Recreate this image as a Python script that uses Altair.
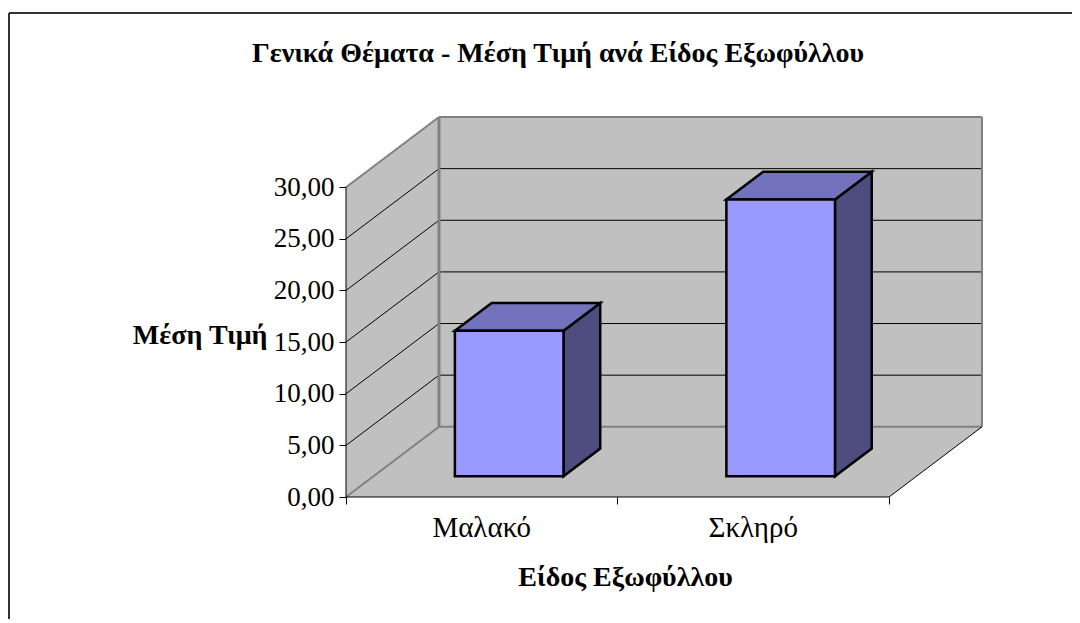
import altair as alt
import pandas as pd

categories = ["Μαλακό", "Σκληρό"]
values = [14.1, 26.8]
ticks = [0, 5, 10, 15, 20, 25, 30]

X_UNIT = 271.5
Y_UNIT = 10.3
DX = 93 / X_UNIT
DY = 70 / Y_UNIT
X_MAX = 2
Y_MAX = 30
BAR_W = 0.4
F0, F1 = 0.295, 0.69

GRAY = "#C0C0C0"
EDGE = "#808080"
FONT = "Liberation Serif"

x_scale = alt.Scale(domain=[0, X_MAX + DX], nice=False, zero=False)
y_scale = alt.Scale(domain=[0, Y_MAX + DY], nice=False, zero=False)
x_axis = alt.Axis(
    values=[0, 1, 2], labels=False, domain=False, grid=False, tickColor="#000000",
    tickSize=7, title="Είδος Εξωφύλλου", titleFont=FONT, titleFontSize=28,
    titleFontWeight="bold", titleColor="#000000", titleX=279, titleY=88,
    titleAlign="center", titleBaseline="alphabetic")
y_axis = alt.Axis(
    values=ticks, domain=False, grid=False, tickColor="#000000", tickSize=7,
    labelFont=FONT, labelFontSize=27, labelColor="#000000", labelPadding=5,
    labelExpr="replace(format(datum.value, '.2f'), '.', ',')",
    title="Μέση Τιμή", titleFont=FONT, titleFontSize=28, titleFontWeight="bold",
    titleColor="#000000", titleAngle=0, titleX=-79, titleY=226,
    titleAlign="right", titleBaseline="alphabetic")
X = alt.X("x:Q", scale=x_scale, axis=x_axis)
Y = alt.Y("y:Q", scale=y_scale, axis=y_axis)


def vert(rows, fill, **kw):
    """parallelogram with vertical sides"""
    return alt.Chart(pd.DataFrame(rows)).mark_area(fill=fill, **kw).encode(
        X, Y, y2="y2:Q")


def horiz(rows, fill, **kw):
    """parallelogram with horizontal sides"""
    return alt.Chart(pd.DataFrame(rows)).mark_area(
        fill=fill, orient="horizontal", **kw).encode(X, Y, x2="x2:Q")


def seg(rows, color, width):
    return alt.Chart(pd.DataFrame(rows)).mark_line(
        color=color, strokeWidth=width).encode(X, Y, detail="k:N", order="o:Q")


def seg_rows(pairs):
    out = []
    for k, (a, b) in enumerate(pairs):
        out.append({"k": k, "o": 0, "x": a[0], "y": a[1]})
        out.append({"k": k, "o": 1, "x": b[0], "y": b[1]})
    return out


# walls and floor
back = alt.Chart(pd.DataFrame([{"x": DX, "x2": X_MAX + DX, "y": DY, "y2": Y_MAX + DY}])).mark_rect(
    fill=GRAY).encode(X, Y, x2="x2:Q", y2="y2:Q")
left_wall = vert([{"x": 0, "y": 0, "y2": Y_MAX}, {"x": DX, "y": DY, "y2": Y_MAX + DY}], GRAY)
floor = horiz([{"y": 0, "x": 0, "x2": X_MAX}, {"y": DY, "x": DX, "x2": X_MAX + DX}], GRAY)

grid_vals = [t for t in ticks if 0 < t < Y_MAX]
grid = seg(seg_rows(
    [((0, t), (DX, t + DY)) for t in grid_vals]
    + [((DX, t + DY), (X_MAX + DX, t + DY)) for t in grid_vals]), "#000000", 1)

edges = seg(seg_rows([
    ((0, 0), (DX, DY)),
    ((0, Y_MAX), (DX, Y_MAX + DY)),
    ((DX, DY), (X_MAX + DX, DY)),
    ((X_MAX + DX, DY), (X_MAX + DX, Y_MAX + DY)),
    ((DX, Y_MAX + DY), (X_MAX + DX, Y_MAX + DY)),
]), EDGE, 2)
corner = seg(seg_rows([((DX, DY), (DX, Y_MAX + DY))]), EDGE, 3)

floor_edges = seg(seg_rows([((X_MAX, 0), (X_MAX + DX, DY))]), "#000000", 1)

y_line = alt.Chart(pd.DataFrame({"x": [0], "y": [0], "y2": [Y_MAX]})).mark_rule(
    color="#000000", strokeWidth=1).encode(X, Y, y2="y2:Q")
x_line = alt.Chart(pd.DataFrame({"x": [0], "x2": [X_MAX], "y": [0]})).mark_rule(
    color="#000000", strokeWidth=1).encode(X, Y, x2="x2:Q")

cat_labels = alt.Chart(pd.DataFrame({
    "x": [i + 0.5 for i in range(len(categories))], "y": [0.0] * len(categories), "t": categories,
})).mark_text(font=FONT, fontSize=29, color="#000000", dy=40, baseline="alphabetic").encode(
    X, Y, text="t:N")

# bars
bars = []
for i, v in enumerate(values):
    x0 = i + 0.5 - BAR_W / 2
    x1 = i + 0.5 + BAR_W / 2
    sx0, sx1 = x0 + F0 * DX, x1 + F0 * DX
    b0 = F0 * DY
    ox, oy = (F1 - F0) * DX, (F1 - F0) * DY
    kw = dict(stroke="#000000", strokeWidth=2.5, strokeJoin="miter")
    bars.append(vert([{"x": sx1, "y": b0, "y2": b0 + v}, {"x": sx1 + ox, "y": b0 + oy, "y2": b0 + oy + v}], "#4D4D80", **kw))
    bars.append(horiz([{"y": b0 + v, "x": sx0, "x2": sx1}, {"y": b0 + v + oy, "x": sx0 + ox, "x2": sx1 + ox}], "#7373BD", **kw))
    bars.append(alt.Chart(pd.DataFrame([{"x": sx0, "x2": sx1, "y": b0, "y2": b0 + v}])).mark_rect(
        fill="#9999FF", **kw).encode(X, Y, x2="x2:Q", y2="y2:Q"))

frame = alt.Chart(pd.DataFrame({"k": [0]})).mark_rule(color="#333333", strokeWidth=2).encode(
    x=alt.value(-337), x2=alt.value(726), y=alt.value(-104))
frame_l = alt.Chart(pd.DataFrame({"k": [0]})).mark_rule(color="#333333", strokeWidth=2).encode(
    x=alt.value(-337), y=alt.value(-104), y2=alt.value(502))

chart = alt.layer(
    back, left_wall, floor, grid, edges, corner, floor_edges, y_line, x_line,
    cat_labels, *bars, frame, frame_l,
).resolve_scale(x="shared", y="shared").properties(
    width=636, height=380,
    padding={"left": 338, "top": 109, "right": 90, "bottom": 122},
    autosize=alt.AutoSizeParams(type="none"),
    title=alt.TitleParams("Γενικά Θέματα - Μέση Τιμή ανά Είδος Εξωφύλλου", font=FONT, fontSize=28,
                          fontWeight="bold", color="#000000", anchor="middle", frame="group",
                          dx=-106, dy=78, offset=0, baseline="alphabetic"),
).configure_view(stroke=None)

chart.save("out.html", embed_options={"renderer": "svg", "actions": False})
